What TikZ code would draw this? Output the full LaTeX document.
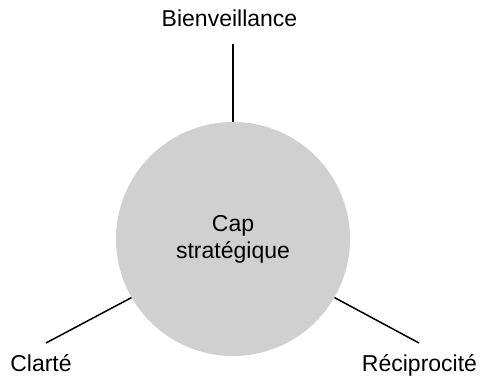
\documentclass[tikz,border=0pt]{standalone}
\usepackage{fontspec}
\setmainfont{Liberation Sans}
\definecolor{discgray}{RGB}{208,208,208}
\tikzset{
  disc/.style={circle, fill=discgray, minimum size=234pt, inner sep=0pt, align=center, font=\fontsize{23}{27}\selectfont},
  lbl/.style={anchor=base, inner sep=0pt, font=\fontsize{23}{27}\selectfont},
  spoke/.style={line width=1.5pt}
}
\begin{document}
\begin{tikzpicture}[x=1pt,y=1pt]
\useasboundingbox (0,0) rectangle (480,377);
\node[disc] (c) at (233,138) {Cap\\strat\'egique};
\coordinate (tB) at (233,333);
\coordinate (tC) at (46,34);
\coordinate (tR) at (419,34);
\draw[spoke] (c.90) -- (tB);
\draw[spoke] (c.210) -- (tC);
\draw[spoke] (c.330) -- (tR);
\node[lbl] (b) at (229.5,350) {Bienveillance};
\node[lbl] (cl) at (41,5) {Clart\'e};
\node[lbl] (r) at (419.5,5) {R\'eciprocit\'e};
\end{tikzpicture}
\end{document}
